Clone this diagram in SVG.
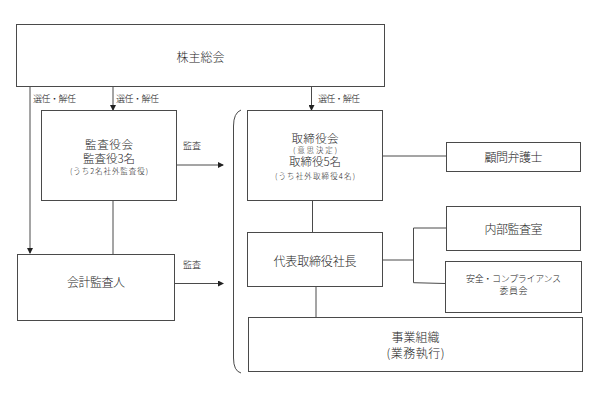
<svg xmlns="http://www.w3.org/2000/svg" width="608" height="401" viewBox="0 0 608 401">
<style>
.box{fill:#fff;stroke:#4a4a4a;stroke-width:1}
.ln{fill:none;stroke:#4a4a4a;stroke-width:1}
text{font-family:"Noto Sans CJK JP","Noto Sans",sans-serif;fill:#262626;text-anchor:middle;dominant-baseline:central;font-weight:300}
.t12{font-size:12px}
.t11{font-size:11.5px}
.t9{font-size:9px}
.t8{font-size:7.5px}
.lab{font-size:9px;text-anchor:start}
</style>
<defs>
<marker id="ah" markerWidth="6" markerHeight="6" refX="5" refY="3" orient="auto" markerUnits="userSpaceOnUse">
<path d="M0,0 L6,3 L0,6 z" fill="#222"/>
</marker>
</defs>
<rect width="608" height="401" fill="#fff"/>
<g id="connectors">
<line class="ln" x1="30" y1="86" x2="30" y2="253" marker-end="url(#ah)"/>
<line class="ln" x1="113" y1="86" x2="113" y2="110" marker-end="url(#ah)"/>
<line class="ln" x1="311.5" y1="86" x2="311.5" y2="110" marker-end="url(#ah)"/>
<line class="ln" x1="113" y1="200.5" x2="113" y2="255"/>
<line class="ln" x1="176" y1="165" x2="223" y2="165" marker-end="url(#ah)"/>
<line class="ln" x1="175" y1="283.5" x2="223" y2="283.5" marker-end="url(#ah)"/>
<line class="ln" x1="312.5" y1="200.5" x2="312.5" y2="232.5"/>
<line class="ln" x1="382" y1="156" x2="446" y2="156"/>
<polyline class="ln" points="382,260 413.5,260"/>
<polyline class="ln" points="446,228 413.5,228 413.5,282.7 445,283.5"/>
<line class="ln" x1="316" y1="286.5" x2="316" y2="317.5"/>
<path class="ln" d="M241,110 Q233.5,113 233.5,126 L233.5,358 Q233.5,371 241,373"/>
<text class="lab" x="33" y="98" textLength="43">選任・解任</text>
<text class="lab" x="116" y="98" textLength="43">選任・解任</text>
<text class="lab" x="318" y="98" textLength="42">選任・解任</text>
<text class="lab" x="183" y="145" textLength="18">監査</text>
<text class="lab" x="183" y="264" textLength="18">監査</text>
</g>
<g id="n-kabunushi">
<rect class="box" x="16.5" y="24.5" width="368" height="62"/>
<text class="t12" x="200.5" y="56">株主総会</text>
</g>
<g id="n-kansayakukai">
<rect class="box" x="41.5" y="110.5" width="135" height="90"/>
<text class="t11" x="109" y="143.5" textLength="48">監査役会</text>
<text class="t11" x="109" y="157.5" textLength="52">監査役3名</text>
<text class="t8" x="109" y="170.5" textLength="78">(うち2名社外監査役)</text>
</g>
<g id="n-kaikei">
<rect class="box" x="17.5" y="254.5" width="157" height="66"/>
<text class="t12" x="96" y="281.7" textLength="58">会計監査人</text>
</g>
<g id="n-torishimariyakukai">
<rect class="box" x="247.5" y="110.5" width="135" height="90"/>
<text class="t11" x="315" y="138" textLength="47">取締役会</text>
<text class="t8" x="315" y="149.5" textLength="44">(意思決定)</text>
<text class="t11" x="315" y="161" textLength="52">取締役5名</text>
<text class="t8" x="315" y="175.5" textLength="80">(うち社外取締役4名)</text>
</g>
<g id="n-komon">
<rect class="box" x="446.5" y="142.5" width="134" height="29"/>
<text class="t12" x="513.5" y="156.5" textLength="58">顧問弁護士</text>
</g>
<g id="n-naibu">
<rect class="box" x="446.5" y="206.5" width="134" height="44"/>
<text class="t12" x="513.5" y="228.5" textLength="58">内部監査室</text>
</g>
<g id="n-anzen">
<rect class="box" x="445.5" y="261.5" width="136" height="51"/>
<text class="t9" x="513.5" y="278.3" textLength="95">安全・コンプライアンス</text>
<text class="t9" x="513.5" y="290" textLength="28">委員会</text>
</g>
<g id="n-daihyo">
<rect class="box" x="247.5" y="232.5" width="135" height="54"/>
<text class="t12" x="315" y="260.7" textLength="83">代表取締役社長</text>
</g>
<g id="n-jigyo">
<rect class="box" x="248.5" y="317.5" width="334" height="54"/>
<text class="t12" x="415.5" y="336.7" textLength="48">事業組織</text>
<text class="t12" x="415.5" y="352.7" textLength="58">(業務執行)</text>
</g>
</svg>
